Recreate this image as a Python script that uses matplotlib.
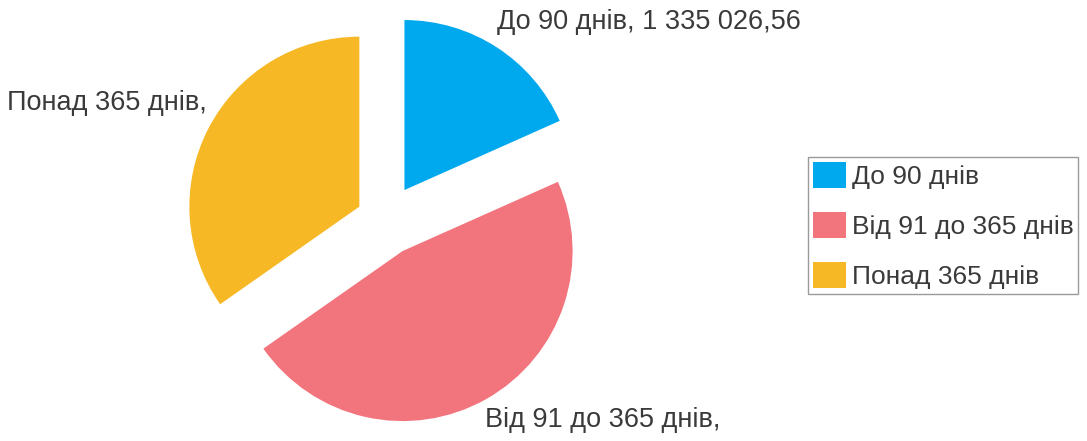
import matplotlib.pyplot as plt

# Data
categories = ['До 90 днів', 'Від 91 до 365 днів', 'Понад 365 днів']
values = [1335026.56, 3420000, 2530000]
slice_labels = ['До 90 днів, 1 335 026,56', 'Від 91 до 365 днів,', 'Понад 365 днів,']
colors = ['#00A9EE', '#F2747C', '#F7B825']

plt.rcParams['font.family'] = ['Liberation Sans', 'DejaVu Sans']

W, H = 1087, 441
fig = plt.figure(figsize=(W / 100, H / 100), dpi=100)

# pie centre at (385, 220) px, radius 170 px
cx, cy, r = 385, 220, 170
half = 220
ax = fig.add_axes([(cx - half) / W, 0, 2 * half / W, 1])

wedges, _ = ax.pie(values, colors=colors, startangle=90, counterclock=False,
                   explode=[0.21, 0.21, 0.17], radius=1,
                   wedgeprops=dict(linewidth=0))
# pie() resets the limits, so set them afterwards
ax.set_aspect('auto')
ax.set_xlim(-half / r, half / r)
ax.set_ylim(-(H - cy) / r, cy / r)
ax.axis('off')

# slice labels (figure pixel coords)
fs = 19.5
txt = dict(fontsize=fs, color='#3a3a3a', va='center')
fig.text(497 / W, 1 - 22 / H, slice_labels[0], ha='left', **txt)
fig.text(485 / W, 1 - 420 / H, slice_labels[1], ha='left', **txt)
fig.text(207 / W, 1 - 103 / H, slice_labels[2], ha='right', **txt)

leg = fig.legend(wedges, categories, loc='upper left',
                 bbox_to_anchor=(808 / W, 1 - 157 / H), fontsize=19,
                 handlelength=1.25, handleheight=1.15, labelspacing=0.88,
                 handletextpad=0.22, borderpad=0.18, borderaxespad=0,
                 fancybox=False, framealpha=1, edgecolor='#9a9a9a')
leg.get_frame().set_linewidth(1.0)
for t in leg.get_texts():
    t.set_color('#3a3a3a')

fig.savefig('out.png', dpi=100)
